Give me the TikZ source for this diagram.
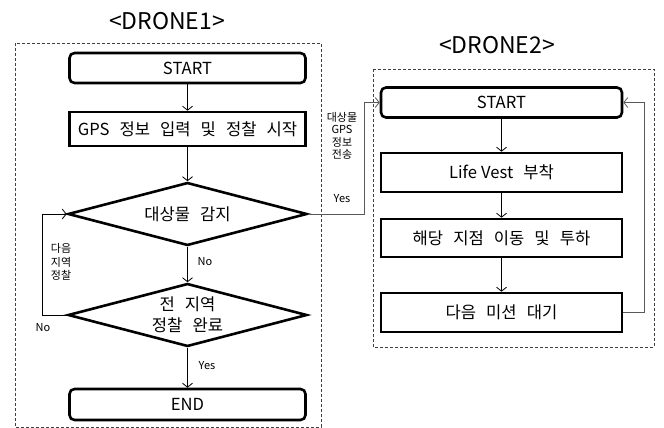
\documentclass[tikz,border=0pt]{standalone}
\usepackage{fontspec}
\setmainfont[WordSpace=2.7]{Noto Sans CJK KR}
\newfontfamily\labelfont{Noto Sans CJK KR}
\usetikzlibrary{shapes.geometric,arrows.meta}
\begin{document}
\begin{tikzpicture}[x=1pt,y=-1pt,
  box/.style={draw=black,line width=2.6pt,minimum width=236pt,minimum height=32pt,inner sep=0pt,font=\fontsize{16.6}{19}\selectfont},
  term/.style={box,rounded corners=5pt,minimum height=30pt},
  dec/.style={draw=black,line width=2.6pt,diamond,aspect=3.8,minimum width=239pt,minimum height=63pt,inner sep=0pt,align=center,font=\fontsize{16.6}{21}\selectfont},
  arr/.style={draw=black,line width=0.8pt,-{Straight Barb[length=4pt,width=10pt]}},
  garr/.style={arr,draw=black!65},
  frame/.style={draw=black!75,line width=0.7pt,dash pattern=on 3pt off 2pt},
  lbl/.style={font=\labelfont\fontsize{11}{12.3}\selectfont,align=center,inner sep=0pt},
  title/.style={font=\labelfont\fontsize{23}{26}\selectfont,inner sep=0pt}]
\useasboundingbox (0,0) rectangle (664,428);

% DRONE1 flowchart
\node[title] (t1) at (167,21) {<DRONE1>};
\draw[frame] (15,43) rectangle (321,427);
\node[term] (s1) at (187.5,68) {START};
\node[box,minimum height=34pt] (gps) at (187.5,129) {GPS 정보 입력 및 정찰 시작};
\node[dec] (d1) at (187.5,214) {대상물 감지};
\node[dec] (d2) at (187.5,315) {전 지역\\정찰 완료};
\node[term,minimum height=31pt] (e1) at (187.5,404.5) {END};

\draw[arr] (s1) -- (gps);
\draw[arr] (gps) -- (d1);
\draw[arr] (d1) -- (d2);
\draw[arr] (d2) -- (e1);
\node[lbl] (no1) at (205,262) {No};
\node[lbl] (yes1) at (207,366) {Yes};

\coordinate (lx) at (42,0);
\draw[arr] (d2.west) -- (d2.west -| lx) |- (d1.west);
\node[lbl,font=\labelfont\fontsize{11}{13.5}\selectfont] (nxt) at (61,262) {다음\\지역\\정찰};
\node[lbl] (no2) at (43,328) {No};

% DRONE2 flowchart
\node[title] (t2) at (497,45) {<DRONE2>};
\draw[frame] (373,69) rectangle (654,347);
\node[term,minimum width=241pt] (s2) at (501.5,102.5) {START};
\node[box,minimum width=241pt,minimum height=39pt] (lv) at (501.5,172.5) {Life\hspace{4pt}Vest 부착};
\node[box,minimum width=241pt,minimum height=38pt] (mv) at (501.5,238) {해당 지점 이동 및 투하};
\node[box,minimum width=241pt,minimum height=39pt] (wt) at (501.5,312.5) {다음 미션 대기};

\draw[arr] (s2) -- (lv);
\draw[arr] (lv) -- (mv);
\draw[arr] (mv) -- (wt);

\coordinate (yx) at (364,0);
\draw[garr] (d1.east) -- (d1.east -| yx) |- (s2.west);
\node[lbl] (send) at (342,136) {대상물\\GPS\\정보\\전송};
\node[lbl] (yes2) at (342,199) {Yes};

\coordinate (rx) at (644,0);
\draw[garr] (wt.east) -- (wt.east -| rx) |- (s2.east);
\end{tikzpicture}
\end{document}
